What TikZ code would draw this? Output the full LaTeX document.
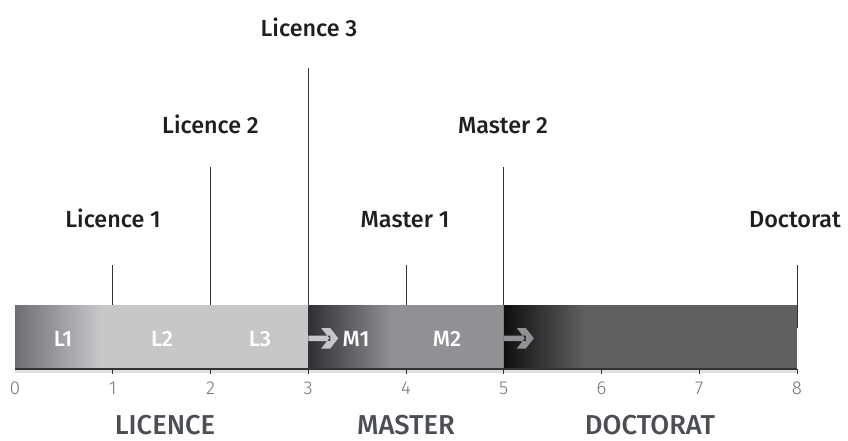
\documentclass[tikz,border=0pt]{standalone}
\usepackage{fontspec}
\setmainfont{Fira Sans}
\newfontfamily\medfont{Fira Sans Medium}
\newfontfamily\thinfont{Fira Sans Light}

\definecolor{licA}{HTML}{6E6F73}
\definecolor{licB}{HTML}{C6C7C9}
\definecolor{masA}{HTML}{2F3034}
\definecolor{masB}{HTML}{909194}
\definecolor{docA}{HTML}{0F0F10}
\definecolor{docB}{HTML}{606062}
\definecolor{cyc}{HTML}{4B4F54}

\begin{document}
\begin{tikzpicture}[x=0.75pt,y=-0.75pt,
  year/.style={font=\medfont\fontsize{17.5}{19}\selectfont,text=black!88,anchor=base,inner sep=0pt},
  stem/.style={draw=black!80,line width=0.75pt},
  inbar/.style={font=\medfont\fontsize{16.5}{17}\selectfont,text=white,anchor=base,inner sep=0pt},
  tick/.style={font=\thinfont\fontsize{14}{15}\selectfont,text=black!55,anchor=base,inner sep=0pt},
  cycle/.style={font=\medfont\fontsize{20.5}{22}\selectfont,text=cyc,anchor=base,inner sep=0pt}]
  \useasboundingbox (0,0) rectangle (848,440);

  % the bar, three cycles
  \shade[left color=licA,right color=licB] (15,305) rectangle (100,369);
  \fill[licB] (99.5,305) rectangle (308.25,369);
  \shade[left color=masA,right color=masB] (308.25,305) rectangle (392,369);
  \fill[masB] (391.5,305) rectangle (503.75,369);
  \shade[left color=docA,right color=docB] (503.75,305) rectangle (585,369);
  \fill[docB] (584.5,305) rectangle (797,369);
  \fill[black!12] (15,370) rectangle (797,373);
  \draw[black!80,line width=1.1pt] (15,369) -- (797,369);

  % arrows between cycles
  \foreach \ax/\col in {308.25/licB,503.75/masB}
    \fill[\col] (\ax,335.5) rectangle ({\ax+22},341)
      ({\ax+13},328) -- ({\ax+22},328) -- ({\ax+30},338.25) -- ({\ax+22},348.5) -- ({\ax+13},348.5) -- ({\ax+21},338.25) -- cycle;

  % axis
  \foreach \i in {0,...,8} {
    \coordinate (t\i) at ({15+97.75*\i},305);
    \coordinate (b\i) at ({15+97.75*\i},369);
    \node[tick] (n\i) at ({15+97.75*\i},394) {\i};
  }
  \foreach \i in {1,...,8}
    \draw[stem] (b\i) -- ++(0,5);

  % years
  \node[year] (lic1) at (113,227) {Licence 1};
  \node[year] (lic2) at (210.5,133) {Licence 2};
  \node[year] (lic3) at (309,36) {Licence 3};
  \node[year] (mas1) at (405,227) {Master 1};
  \node[year] (mas2) at (503,133) {Master 2};
  \node[year] (doc) at (795,227) {Doctorat};
  \foreach \i/\top in {1/265,2/167,3/68,4/265,5/167,8/265} {
    \coordinate (u\i) at ({15+97.75*\i},\top);
    \draw[stem] (u\i) -- (t\i);
  }
  \draw[stem] (t8) -- ++(0,23);

  \node[inbar] (l1) at (63,346) {L1};
  \node[inbar] (l2) at (162,346) {L2};
  \node[inbar] (l3) at (260,346) {L3};
  \node[inbar] (m1) at (356,346) {M1};
  \node[inbar] (m2) at (447,346) {M2};

  \node[cycle] (licence) at (165,434) {LICENCE};
  \node[cycle] (master) at (406,434) {MASTER};
  \node[cycle] (doctorat) at (650,434) {DOCTORAT};
\end{tikzpicture}
\end{document}
